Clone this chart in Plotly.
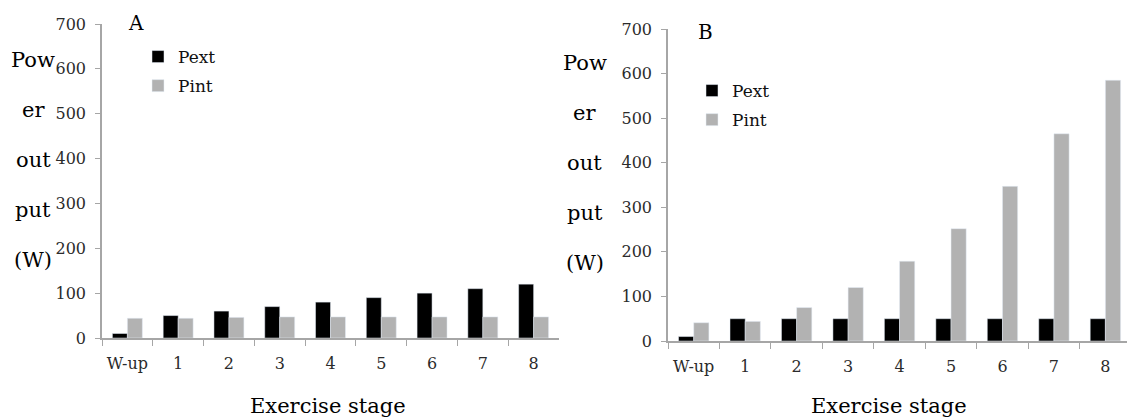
import plotly.graph_objects as go

# Exercise stages and power output (W)
stages = ["W-up", "1", "2", "3", "4", "5", "6", "7", "8"]
pext_a = [10, 50, 60, 70, 80, 90, 100, 110, 120]
pint_a = [44, 44, 46, 47, 47, 47, 47, 47, 47]
pext_b = [10, 50, 50, 50, 50, 50, 50, 50, 50]
pint_b = [41, 44, 75, 120, 179, 252, 347, 465, 585]
y_ticks = [0, 100, 200, 300, 400, 500, 600, 700]
ylabel_parts = ["Pow", "er", "out", "put", "(W)"]

W, H = 1127, 419
FONT = "DejaVu Serif"
BLACK = "#000000"
GREY = "#b2b2b2"
AXIS = "#a6a6a6"


def px_x(p):
    return p / W


def px_y(p):
    return 1 - p / H


fig = go.Figure()

fig.add_trace(go.Bar(x=stages, y=pext_a, name="Pext", marker_color=BLACK,
                     xaxis="x", yaxis="y", legend="legend", legendgroup="a1"))
fig.add_trace(go.Bar(x=stages, y=pint_a, name="Pint", marker_color=GREY,
                     xaxis="x", yaxis="y", legend="legend", legendgroup="a2"))
fig.add_trace(go.Bar(x=stages, y=pext_b, name="Pext", marker_color=BLACK,
                     xaxis="x2", yaxis="y2", legend="legend2", legendgroup="b1"))
fig.add_trace(go.Bar(x=stages, y=pint_b, name="Pint", marker_color=GREY,
                     xaxis="x2", yaxis="y2", legend="legend2", legendgroup="b2"))

tickfont = dict(family=FONT, size=16, color="#2b2b2b")

xcommon = dict(type="category", showline=True, linecolor=AXIS, linewidth=1.5,
               ticks="outside", tickson="boundaries", ticklen=6, tickcolor=AXIS,
               tickfont=tickfont, ticklabelstandoff=10, showgrid=False,
               zeroline=False, fixedrange=True, automargin=False)
ycommon = dict(range=[0, 700], tickvals=y_ticks, showline=True, linecolor=AXIS,
               linewidth=1.5, ticks="outside", ticklen=5, tickcolor=AXIS,
               tickfont=tickfont, ticklabelstandoff=6, showgrid=False,
               zeroline=False, fixedrange=True, automargin=False)

legend_common = dict(font=dict(family=FONT, size=17, color="#111111"),
                     bgcolor="rgba(0,0,0,0)", tracegroupgap=4,
                     itemwidth=30, xanchor="left", yanchor="top")

fig.update_layout(
    width=W, height=H,
    margin=dict(l=0, r=0, t=0, b=0, autoexpand=False),
    paper_bgcolor="white", plot_bgcolor="white",
    barmode="group", bargap=0.41, bargroupgap=0,
    xaxis=dict(domain=[px_x(102), px_x(559)], anchor="y", range=[-0.5, 8.5], **xcommon),
    yaxis=dict(domain=[px_y(338), px_y(24)], anchor="x", **ycommon),
    xaxis2=dict(domain=[px_x(668), 1.0], anchor="y2", range=[-0.5, 8.42], **xcommon),
    yaxis2=dict(domain=[px_y(341), px_y(29)], anchor="x2", **ycommon),
    legend=dict(x=px_x(138), y=px_y(39), **legend_common),
    legend2=dict(x=px_x(692), y=px_y(73), **legend_common),
    showlegend=True,
)

ann = []
txt_common = dict(xref="paper", yref="paper", showarrow=False,
                  xanchor="center", yanchor="middle")
# panel letters
ann.append(dict(text="A", x=px_x(136), y=px_y(23),
                font=dict(family=FONT, size=20, color="black"), **txt_common))
ann.append(dict(text="B", x=px_x(705), y=px_y(32),
                font=dict(family=FONT, size=20, color="black"), **txt_common))

# wrapped y-axis titles
for cx, y0 in ((33, 60), (585, 63)):
    for i, part in enumerate(ylabel_parts):
        ann.append(dict(text=part, x=px_x(cx), y=px_y(y0 + 50 * i),
                        font=dict(family=FONT, size=21, color="black"), **txt_common))

# x-axis titles
for cx in (328, 889):
    ann.append(dict(text="Exercise stage", x=px_x(cx), y=px_y(406),
                    font=dict(family=FONT, size=21, color="black"), **txt_common))

fig.update_layout(annotations=ann)

fig.write_html("out.html")
